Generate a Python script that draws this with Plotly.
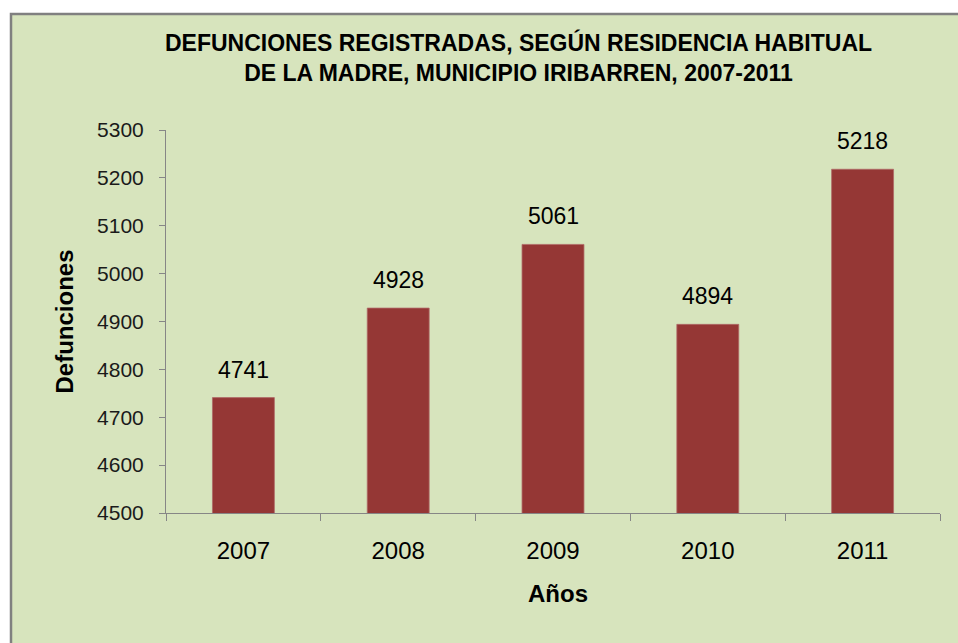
import plotly.graph_objects as go

years = ["2007", "2008", "2009", "2010", "2011"]
deaths = [4741, 4928, 5061, 4894, 5218]
y_ticks = [4500, 4600, 4700, 4800, 4900, 5000, 5100, 5200, 5300]

title_text = "DEFUNCIONES REGISTRADAS, SEGÚN RESIDENCIA HABITUAL<br>DE LA MADRE, MUNICIPIO IRIBARREN, 2007-2011"
x_title = "Años"
y_title = "Defunciones"

# Page body margin is removed (post_script), so figure pixels == page pixels.
W, H = 958, 643
L, R, T = 166, 958 - 940, 130
B = H - 513
PW, PH = W - L - R, H - T - B

def px_x(p):
    return (p - L) / PW

def px_y(p):
    return (H - B - p) / PH

FONT = "Liberation Sans Narrow, Arial Narrow, Liberation Sans, Arial, sans-serif"
GREEN = "#D7E4BD"
BAR = "#953735"
AXIS = "#868686"

fig = go.Figure()
fig.add_trace(go.Bar(
    x=years, y=deaths,
    marker=dict(color=BAR, line=dict(color="#B06A68", width=0.8)),
    hoverinfo="x+y",
))

annotations = []
for i, v in enumerate(deaths):
    annotations.append(dict(
        x=i, y=v, xref="x", yref="y", text=str(v), showarrow=False,
        yanchor="bottom", yshift=13,
        font=dict(family=FONT, size=23, color="#000000"),
    ))
annotations.append(dict(
    x=px_x(64), y=0.5, xref="paper", yref="paper", text="<b>%s</b>" % y_title,
    textangle=-90, showarrow=False, xanchor="center", yanchor="middle",
    font=dict(family=FONT, size=24, color="#000000"),
))
annotations.append(dict(
    x=px_x(558), y=px_y(593), xref="paper", yref="paper", text="<b>%s</b>" % x_title,
    showarrow=False, xanchor="center", yanchor="middle",
    font=dict(family=FONT, size=24, color="#000000"),
))

fig.update_layout(
    width=W, height=H,
    margin=dict(l=L, r=R, t=T, b=B, autoexpand=False),
    paper_bgcolor="#FFFFFF",
    plot_bgcolor="rgba(0,0,0,0)",
    showlegend=False,
    bargap=0.6,
    title=dict(
        text="<b>%s</b>" % title_text,
        x=518.5 / W, xanchor="center", xref="container",
        y=1 - 51 / H, yanchor="top", yref="container",
        font=dict(family=FONT, size=23, color="#000000"),
    ),
    shapes=[dict(
        type="rect", xref="paper", yref="paper", layer="below",
        x0=px_x(11), x1=px_x(990), y0=px_y(690), y1=px_y(14),
        fillcolor=GREEN, line=dict(color="#808080", width=2.5),
    )],
    annotations=annotations,
    xaxis=dict(
        type="category", range=[-0.5, len(years) - 0.5], autorange=False,
        showline=True, linecolor=AXIS, linewidth=1,
        ticks="outside", tickson="boundaries", ticklen=7, tickcolor=AXIS,
        tickangle=0,
        tickfont=dict(family=FONT, size=24, color="#000000"),
        ticklabelstandoff=16,
        showgrid=False, zeroline=False, automargin=False,
    ),
    yaxis=dict(
        range=[4500, 5300], autorange=False, tickvals=y_ticks,
        showline=True, linecolor=AXIS, linewidth=1,
        ticks="outside", ticklen=6, tickcolor=AXIS,
        tickfont=dict(family="Liberation Sans, Arial, sans-serif", size=21, color="#1a1a1a"),
        ticklabelstandoff=11,
        showgrid=False, zeroline=False, automargin=False,
    ),
)

fig.write_html(
    "out.html",
    config={"displayModeBar": False},
    post_script="document.body.style.margin='0';document.documentElement.style.overflow='hidden';document.body.style.overflow='hidden';",
)
